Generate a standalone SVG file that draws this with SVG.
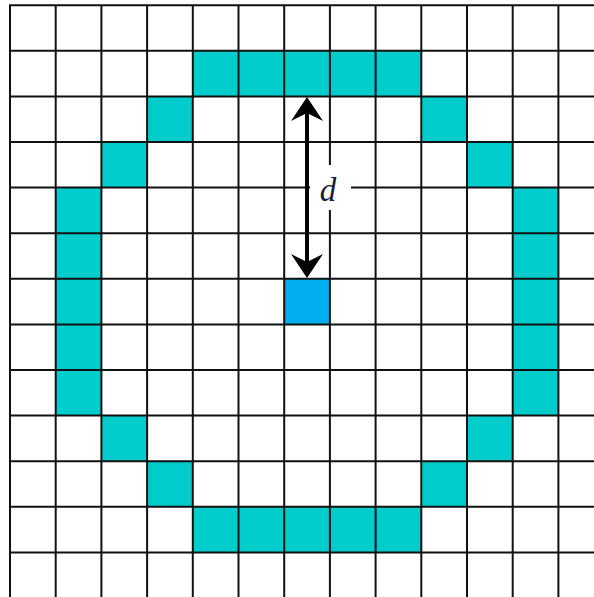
<svg xmlns="http://www.w3.org/2000/svg" width="594" height="597" viewBox="0 0 594 597">
<style>
.ring{fill:#00CCCC}
.center{fill:#00AEEF}
.grid line{stroke:#111;stroke-width:2}
.lbl{font-family:"Liberation Serif","DejaVu Serif",serif;font-style:italic;font-size:33px;fill:#1a1c3e}
</style>
<rect width="594" height="597" fill="#fff"/>
<g id="ring">
<rect class="ring" x="192.8" y="50.8" width="228.5" height="45.6"/>
<rect class="ring" x="192.8" y="506.8" width="228.5" height="45.6"/>
<rect class="ring" x="147.1" y="96.4" width="45.7" height="45.6"/>
<rect class="ring" x="421.3" y="96.4" width="45.7" height="45.6"/>
<rect class="ring" x="101.4" y="142" width="45.7" height="45.6"/>
<rect class="ring" x="467" y="142" width="45.7" height="45.6"/>
<rect class="ring" x="55.7" y="187.6" width="45.7" height="228"/>
<rect class="ring" x="512.7" y="187.6" width="45.7" height="228"/>
<rect class="ring" x="101.4" y="415.6" width="45.7" height="45.6"/>
<rect class="ring" x="467" y="415.6" width="45.7" height="45.6"/>
<rect class="ring" x="147.1" y="461.2" width="45.7" height="45.6"/>
<rect class="ring" x="421.3" y="461.2" width="45.7" height="45.6"/>
</g>
<g id="center-cell">
<rect class="center" x="284.2" y="278.8" width="45.7" height="45.6"/>
</g>
<g class="grid" id="grid">
<line x1="10" y1="5.2" x2="10" y2="597"/>
<line x1="55.7" y1="5.2" x2="55.7" y2="597"/>
<line x1="101.4" y1="5.2" x2="101.4" y2="597"/>
<line x1="147.1" y1="5.2" x2="147.1" y2="597"/>
<line x1="192.8" y1="5.2" x2="192.8" y2="597"/>
<line x1="238.5" y1="5.2" x2="238.5" y2="597"/>
<line x1="284.2" y1="5.2" x2="284.2" y2="597"/>
<line x1="329.9" y1="5.2" x2="329.9" y2="597"/>
<line x1="375.6" y1="5.2" x2="375.6" y2="597"/>
<line x1="421.3" y1="5.2" x2="421.3" y2="597"/>
<line x1="467" y1="5.2" x2="467" y2="597"/>
<line x1="512.7" y1="5.2" x2="512.7" y2="597"/>
<line x1="558.4" y1="5.2" x2="558.4" y2="597"/>
<line x1="9" y1="5.2" x2="594" y2="5.2"/>
<line x1="9" y1="50.8" x2="594" y2="50.8"/>
<line x1="9" y1="96.4" x2="594" y2="96.4"/>
<line x1="9" y1="142" x2="594" y2="142"/>
<line x1="9" y1="187.6" x2="594" y2="187.6"/>
<line x1="9" y1="233.2" x2="594" y2="233.2"/>
<line x1="9" y1="278.8" x2="594" y2="278.8"/>
<line x1="9" y1="324.4" x2="594" y2="324.4"/>
<line x1="9" y1="370" x2="594" y2="370"/>
<line x1="9" y1="415.6" x2="594" y2="415.6"/>
<line x1="9" y1="461.2" x2="594" y2="461.2"/>
<line x1="9" y1="506.8" x2="594" y2="506.8"/>
<line x1="9" y1="552.4" x2="594" y2="552.4"/>
</g>
<g id="connectors">
<line x1="307" y1="108" x2="307" y2="267" stroke="#000" stroke-width="4"/>
<polygon points="307,97 323,121 307,113 291,121" fill="#000"/>
<polygon points="307,278 323,254 307,262 291,254" fill="#000"/>
</g>
<g id="label-d">
<rect x="310" y="165" width="41" height="45" fill="#fff"/>
<text class="lbl" x="328" y="201" text-anchor="middle">d</text>
</g>
</svg>
